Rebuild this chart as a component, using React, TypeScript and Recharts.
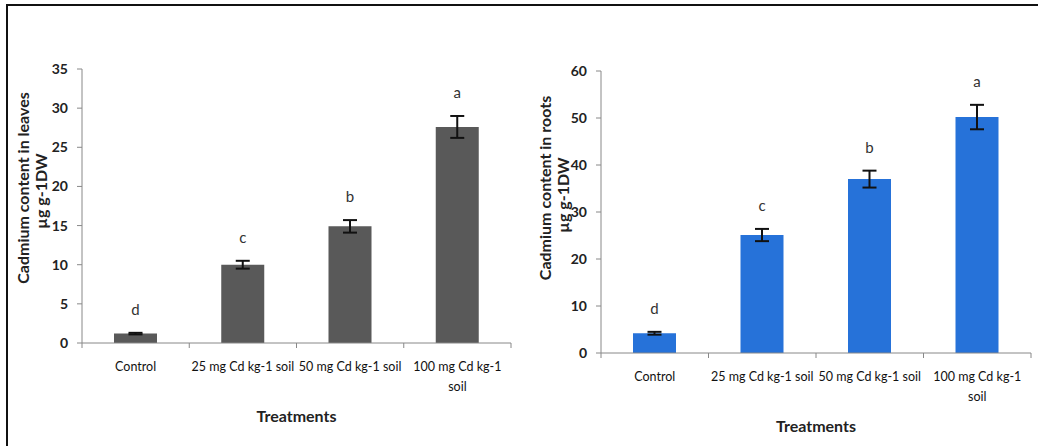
import React from 'react'
import { BarChart, Bar, XAxis, YAxis, ErrorBar, LabelList } from 'recharts'

const categories = ['Control', '25 mg Cd kg-1 soil', '50 mg Cd kg-1 soil', '100 mg Cd kg-1 soil']

const leafValues = [1.2, 10, 14.9, 27.6]
const leafErrors = [0.1, 0.5, 0.8, 1.4]
const leafLetters = ['d', 'c', 'b', 'a']
const leafTicks = [0, 5, 10, 15, 20, 25, 30, 35]

const rootValues = [4.2, 25.1, 37, 50.2]
const rootErrors = [0.3, 1.3, 1.8, 2.6]
const rootLetters = ['d', 'c', 'b', 'a']
const rootTicks = [0, 10, 20, 30, 40, 50, 60]

const FONT = 'Lato, "Open Sans", sans-serif'

// break long category names at a word boundary (excel-style wrap)
function wrapLabel(label: string, maxChars: number) {
  const words = label.split(' ')
  const lines: string[] = []
  let cur = ''
  words.forEach((w) => {
    const next = cur ? cur + ' ' + w : w
    if (next.length > maxChars && cur) {
      lines.push(cur)
      cur = w
    } else {
      cur = next
    }
  })
  if (cur) lines.push(cur)
  return lines
}

function CategoryTick(props: any) {
  const { x, y, payload, index, visibleTicksCount } = props
  const half = payload && payload.offset ? payload.offset : 54
  const lines = wrapLabel(String(payload.value), 18)
  const last = index === (visibleTicksCount || 4) - 1
  return (
    <g>
      <line x1={x - half} x2={x - half} y1={y} y2={y + 5} stroke="#888" />
      {last && <line x1={x + half} x2={x + half} y1={y} y2={y + 5} stroke="#888" />}
      <text x={x} y={y + 28} textAnchor="middle" fontFamily={FONT} fontSize={12.5} fill="#111">
        {lines.map((l, i) => (
          <tspan key={i} x={x} dy={i === 0 ? 0 : 20}>
            {l}
          </tspan>
        ))}
      </text>
    </g>
  )
}

interface PanelProps {
  values: number[]
  errors: number[]
  letters: string[]
  ticks: number[]
  color: string
  title: string
  margin: { top: number; right: number; bottom: number; left: number }
  titleX: number[]
  titleY: number[]
}

function Panel({ values, errors, letters, ticks, color, title, margin, titleX, titleY }: PanelProps) {
  const data = categories.map((name, i) => ({
    name,
    value: values[i],
    err: errors[i],
    letter: letters[i],
  }))

  const renderLetter = (p: any) => {
    const { x, y, width, height, index } = p
    const pxPerUnit = Number(height) / values[index]
    const errPx = errors[index] * pxPerUnit
    return (
      <text
        x={Number(x) + Number(width) / 2}
        y={Number(y) - errPx - 24}
        textAnchor="middle"
        dominantBaseline="central"
        fontFamily={FONT}
        fontSize={15}
        fill="#333"
      >
        {letters[index]}
      </text>
    )
  }

  return (
    <BarChart width={519} height={446} data={data} margin={margin}>
      <XAxis
        dataKey="name"
        interval={0}
        stroke="#888"
        tickLine={false}
        tickSize={0}
        tickMargin={0}
        height={60}
        tick={<CategoryTick />}
        label={{
          content: (p: any) => {
            const vb = p.viewBox
            return (
              <text
                x={vb.x + vb.width / 2}
                y={vb.y + 79}
                textAnchor="middle"
                fontFamily={FONT}
                fontWeight="bold"
                fontSize={16}
                fill="#222"
              >
                Treatments
              </text>
            )
          },
        }}
      />
      <YAxis
        width={60}
        domain={[ticks[0], ticks[ticks.length - 1]]}
        ticks={ticks}
        interval={0}
        stroke="#888"
        tickSize={5}
        tickMargin={9}
        tick={{ fontFamily: FONT, fontSize: 14, fontWeight: 'bold', fill: '#222' }}
        label={{
          content: () => (
            <g fontFamily={FONT} fontWeight="bold" fontSize={16} fill="#222">
              <text transform={`translate(${titleX[0]}, ${titleY[0]}) rotate(-90)`} textAnchor="middle">
                {title}
              </text>
              <text transform={`translate(${titleX[1]}, ${titleY[1]}) rotate(-90)`} textAnchor="middle">
                µg g-1DW
              </text>
            </g>
          ),
        }}
      />
      <Bar dataKey="value" fill={color} barSize={43} isAnimationActive={false}>
        <ErrorBar dataKey="err" width={7} stroke="#111" strokeWidth={2} isAnimationActive={false} />
        <LabelList dataKey="letter" content={renderLetter} />
      </Bar>
    </BarChart>
  )
}

export default function App() {
  return (
    <div style={{ position: 'absolute', left: 0, top: 0, width: 1038, height: 446, background: '#fff', overflow: 'hidden' }}>
      <div
        style={{
          position: 'absolute',
          left: 6,
          top: 4,
          right: 0,
          bottom: 0,
          borderLeft: '2px solid #111',
          borderTop: '2px solid #111',
        }}
      />
      <div style={{ position: 'absolute', left: 0, top: 0 }}>
        <Panel
          values={leafValues}
          errors={leafErrors}
          letters={leafLetters}
          ticks={leafTicks}
          color="#595959"
          title="Cadmium content in leaves"
          margin={{ top: 69, right: 8, bottom: 43, left: 22 }}
          titleX={[29, 47]}
          titleY={[188, 191]}
        />
      </div>
      <div style={{ position: 'absolute', left: 519, top: 0 }}>
        <Panel
          values={rootValues}
          errors={rootErrors}
          letters={rootLetters}
          ticks={rootTicks}
          color="#2672d9"
          title="Cadmium content in roots"
          margin={{ top: 71, right: 7, bottom: 33, left: 22 }}
          titleX={[32, 50]}
          titleY={[188, 195]}
        />
      </div>
    </div>
  )
}
